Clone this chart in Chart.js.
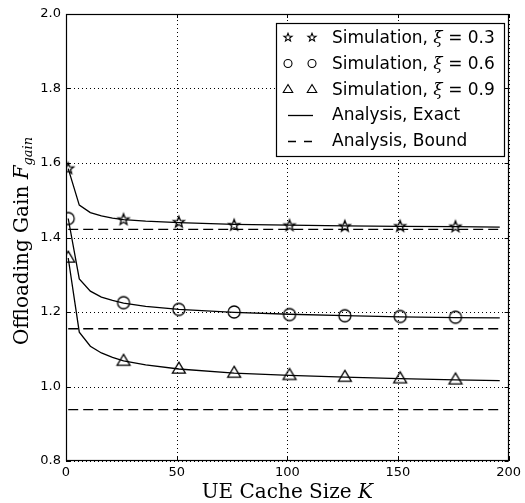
<!DOCTYPE html>
<html>
<head>
<meta charset="utf-8">
<script src="https://cdn.jsdelivr.net/npm/chart.js@4/dist/chart.umd.min.js"></script>
<style>
    html, body { margin: 0; padding: 0; background: #fff; }
    #wrap { width: 525px; height: 503px; }
</style>
</head>
<body>
<div id="wrap"><canvas id="gain"></canvas></div>
<script>
// cache sizes where the curves were sampled
let exact_k = [1, 6, 11, 16, 21, 26, 36, 51, 76, 101, 126, 151, 176, 196];
let exact_03 = [1.585, 1.487, 1.467, 1.458, 1.452, 1.448, 1.444, 1.440, 1.435, 1.433, 1.431, 1.430, 1.429, 1.428];
let exact_06 = [1.451, 1.289, 1.256, 1.240, 1.231, 1.224, 1.215, 1.207, 1.199, 1.194, 1.190, 1.187, 1.185, 1.184];
let exact_09 = [1.345, 1.146, 1.108, 1.090, 1.078, 1.069, 1.058, 1.047, 1.036, 1.030, 1.025, 1.021, 1.018, 1.016];

// simulation points
let sim_k = [1, 26, 51, 76, 101, 126, 151, 176];
let sim_03 = [1.585, 1.448, 1.441, 1.433, 1.432, 1.430, 1.430, 1.429];
let sim_06 = [1.451, 1.225, 1.207, 1.200, 1.193, 1.190, 1.188, 1.186];
let sim_09 = [1.345, 1.068, 1.047, 1.036, 1.030, 1.025, 1.021, 1.018];

// bounds (flat lines)
let bound_k = [1, 196];
let bound_03 = 1.422;
let bound_06 = 1.155;
let bound_09 = 0.938;

let x_ticks = [0, 50, 100, 150, 200];
let y_ticks = [0.8, 1.0, 1.2, 1.4, 1.6, 1.8, 2.0];

let legend_labels = [
    ['Simulation, ', 'ξ', ' = 0.3'],
    ['Simulation, ', 'ξ', ' = 0.6'],
    ['Simulation, ', 'ξ', ' = 0.9'],
    ['Analysis, Exact'],
    ['Analysis, Bound']
];
let x_title = ['UE Cache Size ', 'K'];
let y_title = ['Offloading Gain ', 'F', 'gain'];

function pts(xs, ys) {
    return xs.map(function (x, i) { return {x: x, y: Array.isArray(ys) ? ys[i] : ys}; });
}

function draw_star(ctx, cx, cy, r) {
    ctx.beginPath();
    for (let i = 0; i < 10; i++) {
        let rr = i % 2 === 0 ? r : r * 0.42;
        let a = -Math.PI / 2 + i * Math.PI / 5;
        let px = cx + rr * Math.cos(a), py = cy + rr * Math.sin(a);
        if (i === 0) ctx.moveTo(px, py); else ctx.lineTo(px, py);
    }
    ctx.closePath();
    ctx.stroke();
}
function draw_circle(ctx, cx, cy, r) {
    ctx.beginPath();
    ctx.arc(cx, cy, r, 0, Math.PI * 2);
    ctx.stroke();
}
function draw_tri(ctx, cx, cy, r) {
    ctx.beginPath();
    ctx.moveTo(cx, cy - r);
    ctx.lineTo(cx + r * 0.95, cy + r * 0.6);
    ctx.lineTo(cx - r * 0.95, cy + r * 0.6);
    ctx.closePath();
    ctx.stroke();
}

function marker_img(fn, r) {
    let c = document.createElement('canvas');
    c.width = 20; c.height = 20;
    let g = c.getContext('2d');
    g.strokeStyle = '#000';
    g.lineWidth = 1.3;
    fn(g, 10, 10, r);
    return c;
}
let star_img = marker_img(draw_star, 5.8);
let circle_img = marker_img(draw_circle, 6);
let tri_img = marker_img(draw_tri, 6.8);

function exact_set(data) {
    return {data: pts(exact_k, data), showLine: true, borderColor: '#000', borderWidth: 1.3,
        pointRadius: 0, tension: 0, fill: false};
}
function bound_set(v) {
    return {data: pts(bound_k, v), showLine: true, borderColor: '#000', borderWidth: 1.3,
        borderDash: [10, 5], pointRadius: 0, fill: false};
}
function sim_set(data, img) {
    return {data: pts(sim_k, data), showLine: false, pointStyle: img, pointRadius: 7,
        borderColor: '#000', backgroundColor: 'rgba(0,0,0,0)'};
}

let serif = '"DejaVu Serif", serif';
let sans = '"DejaVu Sans", sans-serif';

// dotted grid under the data
let grid_plugin = {
    id: 'dotgrid',
    beforeDatasetsDraw: function (chart) {
        let ctx = chart.ctx, a = chart.chartArea;
        let xs = chart.scales.x, ys = chart.scales.y;
        ctx.save();
        ctx.strokeStyle = '#000';
        ctx.lineWidth = 1;
        ctx.setLineDash([1, 3]);
        ctx.beginPath();
        x_ticks.forEach(function (t) {
            let px = Math.round(xs.getPixelForValue(t)) + 0.5;
            ctx.moveTo(px, a.bottom); ctx.lineTo(px, a.top);
        });
        y_ticks.forEach(function (t) {
            let py = Math.round(ys.getPixelForValue(t)) + 0.5;
            ctx.moveTo(a.left, py); ctx.lineTo(a.right, py);
        });
        ctx.stroke();
        ctx.restore();
    }
};

let frame_plugin = {
    id: 'frame',
    afterDatasetsDraw: function (chart) {
        let ctx = chart.ctx, a = chart.chartArea;
        let xs = chart.scales.x, ys = chart.scales.y;
        ctx.save();
        ctx.strokeStyle = '#000';
        ctx.lineWidth = 1.2;
        ctx.strokeRect(Math.round(a.left) + 0.5, Math.round(a.top) + 0.5,
            Math.round(a.right - a.left) - 1, Math.round(a.bottom - a.top) - 1);
        // inward tick marks on all four sides
        ctx.lineWidth = 1;
        ctx.beginPath();
        x_ticks.forEach(function (t) {
            let px = Math.round(xs.getPixelForValue(t)) + 0.5;
            ctx.moveTo(px, a.bottom); ctx.lineTo(px, a.bottom - 4);
            ctx.moveTo(px, a.top); ctx.lineTo(px, a.top + 4);
        });
        y_ticks.forEach(function (t) {
            let py = Math.round(ys.getPixelForValue(t)) + 0.5;
            ctx.moveTo(a.left, py); ctx.lineTo(a.left + 4, py);
            ctx.moveTo(a.right, py); ctx.lineTo(a.right - 4, py);
        });
        ctx.stroke();

        // legend
        let lx = 276, ly = 23, lw = 228, lh = 133;
        ctx.fillStyle = '#fff';
        ctx.fillRect(lx, ly, lw, lh);
        ctx.lineWidth = 1.2;
        ctx.strokeRect(lx + 0.5, ly + 0.5, lw, lh);
        let row_y = [37.5, 63.5, 89.5, 115, 140.5];
        let makers = [draw_star, draw_circle, draw_tri];
        let sizes = [4.3, 4, 5];
        legend_labels.forEach(function (parts, i) {
            let y = row_y[i];
            ctx.strokeStyle = '#000';
            ctx.lineWidth = 1.1;
            if (i < 3) {
                makers[i](ctx, 288, y, sizes[i]);
                makers[i](ctx, 312, y, sizes[i]);
            } else {
                ctx.lineWidth = 1.3;
                ctx.beginPath();
                if (i === 4) ctx.setLineDash([8, 8]);
                ctx.moveTo(288, Math.round(y) + 0.5); ctx.lineTo(313, Math.round(y) + 0.5);
                ctx.stroke();
                ctx.setLineDash([]);
            }
            ctx.fillStyle = '#000';
            ctx.textBaseline = 'middle';
            ctx.textAlign = 'left';
            let tx = 332;
            parts.forEach(function (p, j) {
                ctx.font = (j === 1 ? 'italic 17px ' + serif : '17px ' + sans);
                ctx.fillText(p, tx, y + 1);
                tx += ctx.measureText(p).width;
            });
        });

        // axis titles
        ctx.fillStyle = '#000';
        ctx.textBaseline = 'alphabetic';
        ctx.textAlign = 'left';
        ctx.font = '20px ' + serif;
        let w0 = ctx.measureText(x_title[0]).width;
        ctx.font = 'italic 20px ' + serif;
        let w1 = ctx.measureText(x_title[1]).width;
        let cx = (a.left + a.right) / 2;
        let sx = cx - (w0 + w1) / 2;
        ctx.font = '20px ' + serif;
        ctx.fillText(x_title[0], sx, 498);
        ctx.font = 'italic 20px ' + serif;
        ctx.fillText(x_title[1], sx + w0, 498);

        ctx.save();
        ctx.translate(28, 241);
        ctx.rotate(-Math.PI / 2);
        ctx.font = '20px ' + serif;
        let v0 = ctx.measureText(y_title[0]).width;
        ctx.font = 'italic 20px ' + serif;
        let v1 = ctx.measureText(y_title[1]).width;
        ctx.font = 'italic 13px ' + serif;
        let v2 = ctx.measureText(y_title[2]).width;
        let st = -(v0 + v1 + v2) / 2;
        ctx.font = '20px ' + serif;
        ctx.fillText(y_title[0], st, 0);
        ctx.font = 'italic 20px ' + serif;
        ctx.fillText(y_title[1], st + v0, 0);
        ctx.font = 'italic 13px ' + serif;
        ctx.fillText(y_title[2], st + v0 + v1, 4);
        ctx.restore();
        ctx.restore();
    }
};

let gain_param = {
    type: 'scatter',
    data: {
        datasets: [
            sim_set(sim_03, star_img),
            sim_set(sim_06, circle_img),
            sim_set(sim_09, tri_img),
            exact_set(exact_03),
            exact_set(exact_06),
            exact_set(exact_09),
            bound_set(bound_03),
            bound_set(bound_06),
            bound_set(bound_09)
        ]
    },
    options: {
        responsive: true,
        maintainAspectRatio: false,
        animation: false,
        layout: {padding: {top: 14, right: 13, left: 0, bottom: 0}},
        plugins: {legend: {display: false}, tooltip: {enabled: false}},
        scales: {
            x: {
                type: 'linear', min: 0, max: 200,
                afterBuildTicks: function (s) { s.ticks = x_ticks.map(function (v) { return {value: v}; }); },
                afterFit: function (s) { s.height = 42; },
                grid: {display: false, drawTicks: false},
                border: {display: false},
                ticks: {color: '#000', font: {family: sans, size: 13}, padding: 4, maxRotation: 0}
            },
            y: {
                type: 'linear', min: 0.8, max: 2.0,
                afterBuildTicks: function (s) { s.ticks = y_ticks.map(function (v) { return {value: v}; }); },
                afterFit: function (s) { s.width = 66; },
                grid: {display: false, drawTicks: false},
                border: {display: false},
                ticks: {color: '#000', font: {family: sans, size: 13}, padding: 5,
                    callback: function (v) { return v.toFixed(1); }}
            }
        }
    },
    plugins: [grid_plugin, frame_plugin]
};

let gain_chart = new Chart(document.getElementById('gain'), gain_param);
</script>
</body>
</html>
